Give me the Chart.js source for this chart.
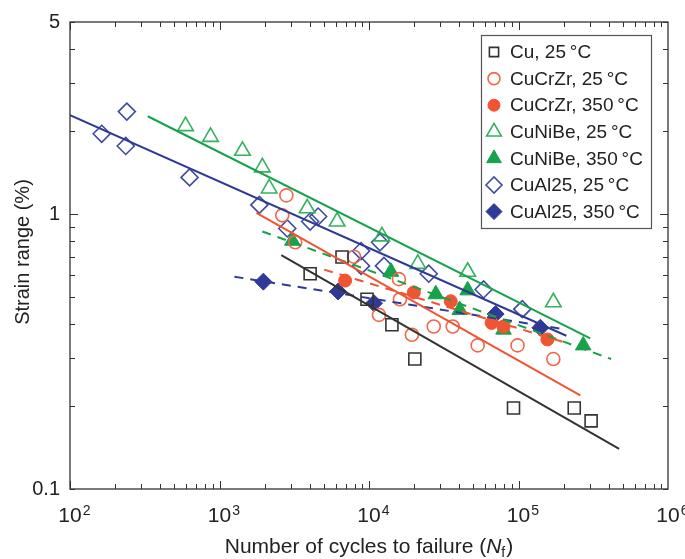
<!DOCTYPE html>
<html>
<head>
<meta charset="utf-8">
<title>Strain range vs cycles to failure</title>
<script src="https://cdn.jsdelivr.net/npm/chart.js@4/dist/chart.umd.min.js"></script>
<style>
  html, body { margin: 0; padding: 0; background: #ffffff; }
  #wrap { width: 685px; height: 559px; }
</style>
</head>
<body>
<div id="wrap"><canvas id="fatigue-chart" width="685" height="559"></canvas></div>
<script>
// Measured points (cycles to failure, strain range in %)
const cuN = [4040, 6600, 9700, 14230, 20260, 92600, 236000, 306000];
const cuS = [0.607, 0.698, 0.49, 0.396, 0.297, 0.197, 0.197, 0.177];

const crzr25N = [2630, 2800, 3210, 7940, 11660, 15850, 16100, 19360, 27100, 36300, 53300, 98500, 171000];
const crzr25S = [0.99, 1.17, 0.79, 0.70, 0.43, 0.58, 0.49, 0.364, 0.39, 0.39, 0.333, 0.333, 0.297];

const crzr350N = [6920, 19950, 35200, 66100, 79400, 156000];
const crzr350S = [0.573, 0.519, 0.482, 0.402, 0.39, 0.35];

const nibe25N = [593, 871, 1424, 1935, 2150, 3860, 6120, 12200, 21200, 45700, 171000];
const nibe25S = [2.09, 1.91, 1.70, 1.48, 1.24, 1.05, 0.94, 0.83, 0.659, 0.617, 0.478];

const nibe350N = [3070, 14020, 27980, 40450, 45700, 79400, 271000];
const nibe350S = [0.80, 0.617, 0.511, 0.448, 0.528, 0.38, 0.333];

const al25N = [163, 236, 240, 631, 1848, 2840, 4040, 4570, 8850, 8850, 11840, 12590, 25100, 58400, 106000];
const al25S = [1.96, 1.77, 2.36, 1.36, 1.08, 0.887, 0.94, 0.98, 0.734, 0.648, 0.79, 0.648, 0.607, 0.532, 0.451];

const al350N = [1965, 6210, 10800, 70300, 140000];
const al350S = [0.568, 0.523, 0.474, 0.433, 0.386];

// Fitted lines: end points only
const cuFitN = [2590, 471000],      cuFitS = [0.71, 0.14];
const crzr25FitN = [1765, 259000],  crzr25FitS = [1.01, 0.219];
const crzr350FitN = [5010, 205700], crzr350FitS = [0.628, 0.341];
const nibe25FitN = [331, 302000],   nibe25FitS = [2.27, 0.353];
const nibe350FitN = [1935, 417000], nibe350FitS = [0.865, 0.297];
const al25FitN = [100, 209000],     al25FitS = [2.29, 0.361];
const al350FitN = [1259, 209000],   al350FitS = [0.592, 0.38];

// Axis ticks
const xDecades = [100, 1000, 10000, 100000, 1000000];
const xExponents = ['2', '3', '4', '5', '6'];
const yTickValues = [0.1, 1, 5];
const yTickLabels = ['0.1', '1', '5'];
const yMinorTicks = [0.2, 0.3, 0.4, 0.5, 0.6, 0.7, 0.8, 0.9, 2, 3, 4];

const legendLabels = ['Cu, 25\u2009\u00b0C', 'CuCrZr, 25\u2009\u00b0C', 'CuCrZr, 350\u2009\u00b0C',
  'CuNiBe, 25\u2009\u00b0C', 'CuNiBe, 350\u2009\u00b0C', 'CuAl25, 25\u2009\u00b0C', 'CuAl25, 350\u2009\u00b0C'];

const BLACK = '#333333';
const RED = '#ef5533';
const RED_OPEN = '#f2664a';
const GREEN = '#17a24b';
const GREEN_OPEN = '#35b15f';
const BLUE = '#2f3a96';
const BLUE_OPEN = '#3f4aa3';

const FONT = '"Liberation Sans", Arial, Helvetica, sans-serif';

function toPoints(xs, ys) {
    return xs.map((x, i) => ({ x: x, y: ys[i] }));
}

function markers(label, xs, ys, style, radius, color, filled) {
    return {
        label: label,
        data: toPoints(xs, ys),
        showLine: false,
        pointStyle: style,
        pointRadius: radius,
        pointHoverRadius: radius,
        pointBorderWidth: filled ? 1 : 1.6,
        borderColor: color,
        backgroundColor: filled ? color : 'rgba(0,0,0,0)',
        isMarker: true
    };
}

function fitLine(xs, ys, color, dashed) {
    return {
        label: 'fit',
        data: toPoints(xs, ys),
        showLine: true,
        pointRadius: 0,
        borderColor: color,
        borderWidth: 2,
        borderDash: dashed ? [9, 7] : [],
        fill: false,
        isMarker: false
    };
}

const markerSets = [
    markers(legendLabels[0], cuN, cuS, 'rect', 8.5, BLACK, false),
    markers(legendLabels[1], crzr25N, crzr25S, 'circle', 6.5, RED_OPEN, false),
    markers(legendLabels[2], crzr350N, crzr350S, 'circle', 6.5, RED, true),
    markers(legendLabels[3], nibe25N, nibe25S, 'triangle', 9, GREEN_OPEN, false),
    markers(legendLabels[4], nibe350N, nibe350S, 'triangle', 9, GREEN, true),
    markers(legendLabels[5], al25N, al25S, 'rectRot', 8.5, BLUE_OPEN, false),
    markers(legendLabels[6], al350N, al350S, 'rectRot', 8.5, BLUE, true)
];

const fitSets = [
    fitLine(cuFitN, cuFitS, BLACK, false),
    fitLine(crzr25FitN, crzr25FitS, RED, false),
    fitLine(crzr350FitN, crzr350FitS, RED, true),
    fitLine(nibe25FitN, nibe25FitS, GREEN, false),
    fitLine(nibe350FitN, nibe350FitS, GREEN, true),
    fitLine(al25FitN, al25FitS, BLUE, false),
    fitLine(al350FitN, al350FitS, BLUE, true)
];

/**
 * Draws the frame, inward tick marks, the x labels with superscripts,
 * both axis titles and the boxed legend.
 */
const decorPlugin = {
    id: 'decor',
    afterDraw(chart) {
        const ctx = chart.ctx;
        const area = chart.chartArea;
        const xs = chart.scales.x;
        const ys = chart.scales.y;

        ctx.save();
        ctx.strokeStyle = BLACK;
        ctx.lineWidth = 1.3;
        ctx.strokeRect(area.left, area.top, area.right - area.left, area.bottom - area.top);

        // inward ticks on all four sides
        ctx.lineWidth = 1;
        ctx.beginPath();
        for (let d = 100; d < 1000000; d *= 10) {
            for (let m = 1; m < 10; m++) {
                const v = d * m;
                const px = Math.round(xs.getPixelForValue(v)) + 0.5;
                const len = m === 1 ? 8 : 5;
                ctx.moveTo(px, area.bottom); ctx.lineTo(px, area.bottom - len);
                ctx.moveTo(px, area.top); ctx.lineTo(px, area.top + len);
            }
        }
        const yAll = yTickValues.concat(yMinorTicks);
        yAll.forEach(v => {
            const py = Math.round(ys.getPixelForValue(v)) + 0.5;
            const len = (v === 1) ? 8 : 5;
            ctx.moveTo(area.left, py); ctx.lineTo(area.left + len, py);
            ctx.moveTo(area.right, py); ctx.lineTo(area.right - len, py);
        });
        ctx.stroke();

        // x tick labels: 10 with superscript exponent
        ctx.fillStyle = '#222222';
        ctx.textBaseline = 'alphabetic';
        xDecades.forEach((v, i) => {
            const px = xs.getPixelForValue(v);
            ctx.font = '21px ' + FONT;
            const w = ctx.measureText('10').width;
            ctx.textAlign = 'center';
            ctx.fillText('10', px, 522);
            ctx.font = '14px ' + FONT;
            ctx.textAlign = 'left';
            ctx.fillText(xExponents[i], px + w / 2 + 1, 515);
        });

        // x title with italic N and subscript f
        const partA = 'Number of cycles to failure (';
        ctx.font = '21px ' + FONT;
        const wA = ctx.measureText(partA).width;
        ctx.font = 'italic 21px ' + FONT;
        const wN = ctx.measureText('N').width;
        ctx.font = '14px ' + FONT;
        const wF = ctx.measureText('f').width;
        ctx.font = '21px ' + FONT;
        const wC = ctx.measureText(')').width;
        let tx = (area.left + area.right) / 2 - (wA + wN + wF + wC + 1) / 2;
        ctx.textAlign = 'left';
        ctx.fillText(partA, tx, 553);
        tx += wA;
        ctx.font = 'italic 21px ' + FONT;
        ctx.fillText('N', tx, 553);
        tx += wN;
        ctx.font = '14px ' + FONT;
        ctx.fillText('f', tx, 557);
        tx += wF + 1;
        ctx.font = '21px ' + FONT;
        ctx.fillText(')', tx, 553);

        // y title
        ctx.save();
        ctx.translate(23, 252);
        ctx.rotate(-Math.PI / 2);
        ctx.font = '20px ' + FONT;
        ctx.textAlign = 'center';
        ctx.textBaseline = 'middle';
        ctx.fillText('Strain range (%)', 0, 0);
        ctx.restore();

        // legend box
        const box = { x: 481, y: 35, w: 170, h: 193 };
        ctx.fillStyle = '#ffffff';
        ctx.fillRect(box.x, box.y, box.w, box.h);
        ctx.strokeStyle = '#555555';
        ctx.lineWidth = 1.2;
        ctx.strokeRect(box.x + 0.5, box.y + 0.5, box.w, box.h);
        const legendRadius = { rect: 6.5, circle: 6, triangle: 8.5, rectRot: 8 };
        markerSets.forEach((ds, i) => {
            const cy = 52 + i * 26.6;
            // drawPoint fills / strokes with the current context colours
            ctx.save();
            ctx.fillStyle = ds.backgroundColor;
            ctx.strokeStyle = ds.borderColor;
            ctx.lineWidth = ds.pointBorderWidth;
            Chart.helpers.drawPoint(ctx, {
                pointStyle: ds.pointStyle,
                radius: legendRadius[ds.pointStyle],
                rotation: 0,
                borderWidth: ds.pointBorderWidth
            }, 494, cy);
            ctx.restore();
            ctx.fillStyle = '#222222';
            ctx.font = '19px ' + FONT;
            ctx.textAlign = 'left';
            ctx.textBaseline = 'middle';
            ctx.fillText(ds.label, 510, cy + 1);
        });
        ctx.restore();
    }
};

const ctx = document.getElementById('fatigue-chart').getContext('2d');
const fatigueChart = new Chart(ctx, {
    type: 'scatter',
    data: { datasets: fitSets.concat(markerSets) },
    options: {
        responsive: false,
        animation: false,
        devicePixelRatio: 1,
        layout: { padding: { top: 14, right: 17, left: 0, bottom: 0 } },
        plugins: {
            legend: { display: false },
            tooltip: { enabled: false }
        },
        scales: {
            x: {
                type: 'logarithmic',
                min: 100,
                max: 1000000,
                grid: { display: false, drawTicks: false },
                border: { display: false },
                ticks: { display: false },
                afterFit: scale => { scale.height = 70; }
            },
            y: {
                type: 'logarithmic',
                min: 0.1,
                max: 5,
                grid: { display: false, drawTicks: false },
                border: { display: false },
                afterBuildTicks: scale => {
                    scale.ticks = yTickValues.map(v => ({ value: v }));
                },
                ticks: {
                    padding: 10,
                    color: '#222222',
                    font: { family: FONT, size: 20 },
                    callback: value => {
                        const i = yTickValues.indexOf(value);
                        return i >= 0 ? yTickLabels[i] : '';
                    }
                },
                afterFit: scale => { scale.width = 70; }
            }
        }
    },
    plugins: [decorPlugin]
});
</script>
</body>
</html>
